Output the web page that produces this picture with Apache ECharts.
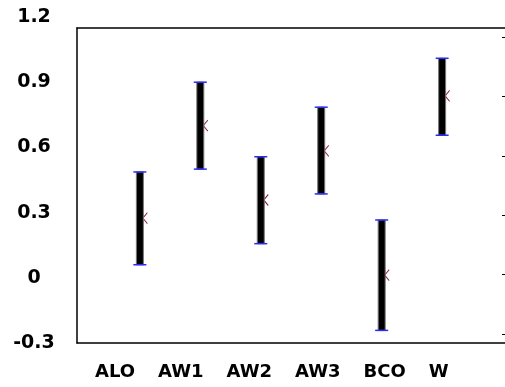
<!DOCTYPE html>
<html>
<head>
<meta charset="utf-8">
<script src="https://cdn.jsdelivr.net/npm/echarts@6/dist/echarts.min.js"></script>
<style>html,body{margin:0;padding:0;background:#fff;}#c{width:505px;height:387px;}</style>
</head>
<body>
<div id="c"></div>
<script>
var categories = ['ALO', 'AW1', 'AW2', 'AW3', 'BCO', 'W'];
var lowValues  = [0.06, 0.50, 0.157, 0.386, -0.242, 0.656];
var midValues  = [0.275, 0.70, 0.358, 0.584, 0.012, 0.837];
var highValues = [0.487, 0.90, 0.557, 0.785, 0.266, 1.01];
var yTicks = [-0.3, 0, 0.3, 0.6, 0.9, 1.2];

var rangeData = categories.map(function (c, i) { return [i + 1, lowValues[i], highValues[i]]; });
var midData = categories.map(function (c, i) { return [i + 1, midValues[i]]; });

var FONT = 'DejaVu Sans';
var chart = echarts.init(document.getElementById('c'), null, {renderer: 'canvas'});
chart.setOption({
  animation: false,
  backgroundColor: '#fff',
  title: {
    text: categories.join('{g|}'),
    left: 95, top: 363, padding: 0,
    textStyle: {
      fontFamily: FONT, fontWeight: 'bold', fontSize: 18, color: '#000',
      rich: { g: { width: 23 } }
    }
  },
  grid: [
    {left: 77, right: 0, top: 17, bottom: 44},
    {left: 77, right: 0, top: 28, bottom: 44},
    {left: 502, right: 0, top: 37, bottom: 53}
  ],
  xAxis: [
    {gridIndex: 0, type: 'value', min: -0.04, max: 7.04, show: false},
    {gridIndex: 1, type: 'value', position: 'bottom', min: 0, max: 1,
     axisLine: {show: true, lineStyle: {color: '#000', width: 1.5}},
     axisTick: {show: false}, axisLabel: {show: false}, splitLine: {show: false}},
    {gridIndex: 1, type: 'value', position: 'top', min: 0, max: 1,
     axisLine: {show: true, lineStyle: {color: '#000', width: 1.5}},
     axisTick: {show: false}, axisLabel: {show: false}, splitLine: {show: false}},
    {gridIndex: 2, type: 'value', min: 0, max: 1, show: false}
  ],
  yAxis: [
    {gridIndex: 0, type: 'value', min: yTicks[0], max: yTicks[yTicks.length - 1], interval: 0.3,
     axisLine: {show: false}, axisTick: {show: false}, splitLine: {show: false},
     axisLabel: {
       show: true, align: 'center', margin: 43,
       fontFamily: FONT, fontWeight: 'bold', fontSize: 19, color: '#000',
       formatter: function (v) { var r = Math.round(v * 10) / 10; return r === 0 ? '0' : r.toFixed(1); }
     }},
    {gridIndex: 1, type: 'value', position: 'left', min: 0, max: 1,
     axisLine: {show: true, lineStyle: {color: '#000', width: 1.5}},
     axisTick: {show: false}, axisLabel: {show: false}, splitLine: {show: false}},
    {gridIndex: 2, type: 'value', position: 'left', min: 0, max: 5, interval: 1,
     axisLine: {show: false},
     axisTick: {show: true, inside: true, length: 3, lineStyle: {color: '#000', width: 1}},
     axisLabel: {show: false}, splitLine: {show: false}}
  ],
  series: [
    {
      type: 'scatter', xAxisIndex: 0, yAxisIndex: 0, z: 1,
      data: midData,
      symbol: 'path://M0,0L10,10M0,10L10,0M5,0L5,10',
      symbolSize: [9, 11], symbolOffset: [3, 0],
      itemStyle: {color: 'rgba(0,0,0,0)', borderColor: '#8b1a4a', borderWidth: 1, opacity: 1}
    },
    {
      type: 'custom', xAxisIndex: 0, yAxisIndex: 0, z: 3,
      data: rangeData,
      renderItem: function (params, api) {
        var x = api.value(0), lo = api.value(1), hi = api.value(2);
        var pLo = api.coord([x, lo]);
        var pHi = api.coord([x, hi]);
        var w = 7, cap = 13;
        return {
          type: 'group',
          children: [
            {type: 'rect', shape: {x: pHi[0] - w / 2, y: pHi[1], width: w, height: pLo[1] - pHi[1]},
             style: {fill: '#000', stroke: '#777', lineWidth: 1}},
            {type: 'line', shape: {x1: pHi[0] - cap / 2, y1: pHi[1], x2: pHi[0] + cap / 2, y2: pHi[1]},
             style: {stroke: '#2a2aff', lineWidth: 1.5}},
            {type: 'line', shape: {x1: pLo[0] - cap / 2, y1: pLo[1], x2: pLo[0] + cap / 2, y2: pLo[1]},
             style: {stroke: '#2a2aff', lineWidth: 1.5}}
          ]
        };
      }
    }
  ]
});
</script>
</body>
</html>
